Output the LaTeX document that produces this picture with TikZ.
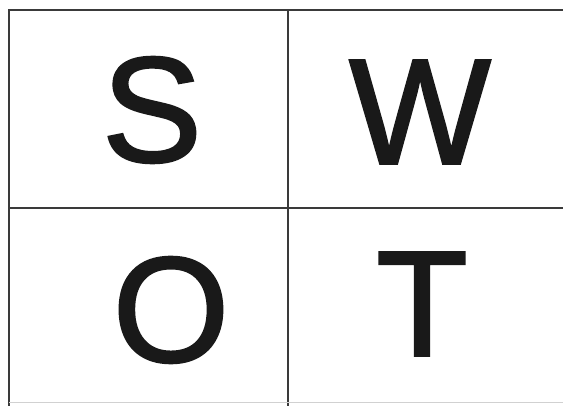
\documentclass[tikz,border=0pt]{standalone}
\usepackage{fontspec}
\setmainfont{Liberation Sans}
\newfontfamily\swotfont{Liberation Sans}[FakeBold=1.6]
\usepackage{xcolor}
\usepackage{tikz}

\definecolor{gridline}{HTML}{3A3A3A}

\begin{document}
\begin{tikzpicture}[x=1pt,y=-1pt,
    letter/.style={font=\swotfont\fontsize{150}{150}\selectfont, text=black!90, inner sep=0pt}]
  \useasboundingbox (0,0) rectangle (563,406);

  %% Outer frame (top and left) and the two dividers
  \draw[line width=1.8pt, gridline] (563,10) -- (9,10) -- (9,406);
  \draw[line width=1.6pt, gridline] (288,10) -- (288,406);
  \draw[line width=1.6pt, gridline] (9,208) -- (563,208);
  %% faint bottom edge of the scan
  \draw[line width=0.8pt, black!18] (9,402) -- (563,402);

  %% The four letters
  \node[letter] (strength)    at (152,110) {S};
  \node[letter] (weakness)    at (420,112) {W};
  \node[letter] (opportunity) at (171,310) {O};
  \node[letter] (threat)      at (422,304) {T};
\end{tikzpicture}
\end{document}
